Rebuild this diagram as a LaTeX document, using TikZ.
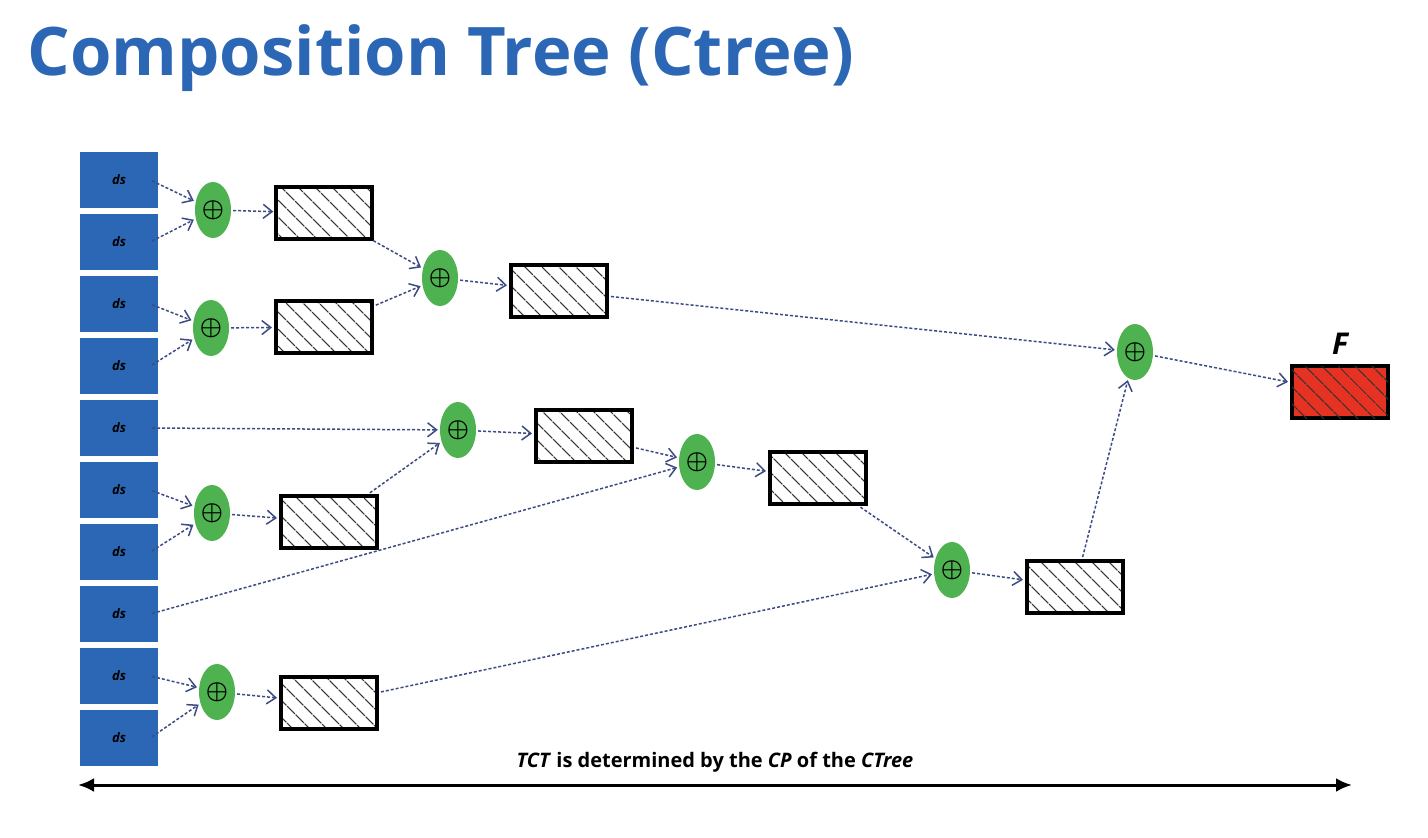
\documentclass[tikz,border=0pt]{standalone}
\usepackage{fontspec}
\setmainfont{Open Sans}
\usetikzlibrary{patterns.meta,arrows.meta,shapes.geometric,positioning}
\definecolor{dsblue}{RGB}{44,103,181}
\definecolor{opgreen}{RGB}{78,178,80}
\definecolor{lnblue}{RGB}{60,75,130}
\definecolor{fred}{RGB}{230,50,35}
\begin{document}
\begin{tikzpicture}[x=1pt,y=-1pt,
  ds/.style={fill=dsblue,minimum width=78pt,minimum height=56pt,inner sep=0pt,font=\fontsize{13}{13}\selectfont\bfseries\itshape},
  op/.style={ellipse,fill=opgreen,minimum width=36pt,minimum height=56pt,inner sep=0pt,font=\fontsize{30}{30}\selectfont\boldmath},
  hatch/.style={pattern={Lines[angle=-45,distance=13pt,line width=1.3pt]},pattern color=black!80},
  res/.style={draw,line width=4pt,minimum width=96pt,minimum height=52pt,inner sep=0pt,hatch},
  link/.style={densely dashed,lnblue,line width=1.5pt,-{Straight Barb[length=9pt,width=14pt,line width=1.5pt]},shorten >=2pt,shorten <=2pt}]
\useasboundingbox (0,0) rectangle (1428,838);

% title
\node[anchor=west,text=dsblue,font=\fontsize{67}{67}\selectfont\bfseries] (title) at (24,58) {Composition Tree (Ctree)};

% data sets
\foreach \i/\y in {1/180,2/242,3/304,4/366,5/428,6/490,7/552,8/614,9/676,10/738}
  \node[ds] (ds\i) at (119,\y) {ds};

% composition operators
\foreach \n/\x/\y in {p1/213/210,p2/211/328,p3/440/278,p4/458/430,p5/212/513,p6/697/462,p7/952/570,p8/217/692,p9/1135/352}
  \node[op] (\n) at (\x,\y) {$\oplus$};

% partial results
\foreach \n/\x/\y in {r1/324/213,r2/324/327,r3/559/291,r4/584/436,r5/329/522,r6/818/478,r7/1075/587,r8/329/703}
  \node[res] (\n) at (\x,\y) {};
\node[res,fill=fred,postaction={hatch}] (F) at (1340,392) {};
\node[font=\fontsize{30}{30}\selectfont\bfseries\itshape,above=6pt of F] (Flab) {F};

% links
\foreach \a/\b in {ds1/p1,ds2/p1,ds3/p2,ds4/p2,ds5/p4,ds6/p5,ds7/p5,ds8/p6,ds9/p8,ds10/p8}
  \draw[link] ([xshift=-8pt]\a.east) -- (\b);
\foreach \a/\b in {p1/r1,p2/r2,r1/p3,r2/p3,p3/r3,r3/p9,r5/p4,p4/r4,p5/r5,r4/p6,p6/r6,r6/p7,r8/p7,p7/r7,r7/p9,p8/r8,p9/F}
  \draw[link] (\a) -- (\b);

% time axis
\coordinate (tl) at (78,785);
\coordinate (tr) at (1352,785);
\draw[line width=3pt,{Latex[length=16pt,width=14pt]}-{Latex[length=16pt,width=14pt]}] (tl) -- (tr);
\node[font=\fontsize{20}{20}\selectfont\bfseries] (tct) at (715,762) {\textit{TCT} is determined by the \textit{CP} of the \textit{CTree}};
\end{tikzpicture}
\end{document}
